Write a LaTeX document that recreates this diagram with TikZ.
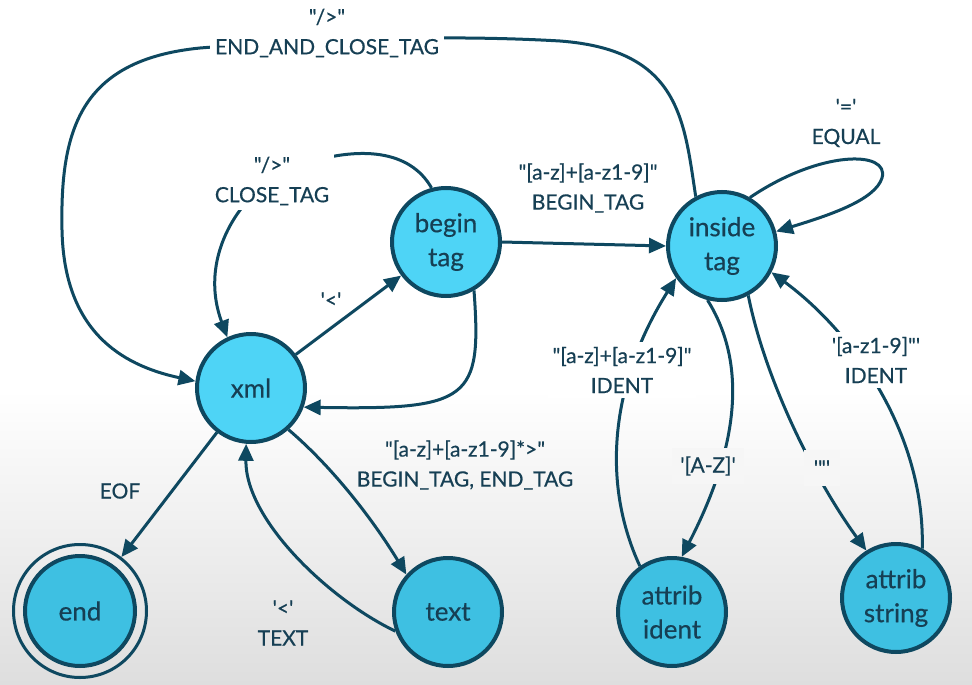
\documentclass[tikz,border=0pt]{standalone}
\usepackage{fontspec}
\newfontfamily\lato{Lato}[FakeBold=0.5]
\usetikzlibrary{arrows.meta}
\definecolor{ink}{RGB}{14,72,96}
\definecolor{txt}{RGB}{22,63,84}
\definecolor{cyhi}{RGB}{78,212,246}
\definecolor{cylo}{RGB}{62,192,226}
\definecolor{bga}{RGB}{246,246,246}
\definecolor{bgb}{RGB}{222,222,222}
\tikzset{
  state/.style={circle, draw=ink, line width=4pt, fill=cyhi, minimum size=108pt, inner sep=0pt, text=txt, align=center, font=\lato\fontsize{26}{34}\selectfont},
  statelo/.style={state, fill=cylo},
  edge/.style={draw=ink, line width=3pt, -{Triangle[length=17pt,width=15pt]}},
  lbl/.style={text=txt, align=center, font=\lato\fontsize{21}{30}\selectfont, inner sep=5pt},
}
\begin{document}
\begin{tikzpicture}[x=1pt,y=-1pt]
\useasboundingbox (0,0) rectangle (972,685);
\fill[white] (0,0) rectangle (972,391);
\begin{scope}[y=1pt]
\shade[top color=white,bottom color=bgb] (0,-685) rectangle (972,-390);
\end{scope}

% states
\node[state] (xml) at (251,388) {xml};
\node[state] (begin) at (446,242) {begin\\tag};
\node[state] (inside) at (722,246) {inside\\tag};
\node[circle, draw=ink, line width=3pt, minimum size=133pt, inner sep=0pt] (fin) at (80,611) {};
\node[statelo, minimum size=110pt] (fininner) at (fin.center) {end};
\node[statelo] (txtnode) at (448,612) {text};
\node[statelo] (aident) at (672,612) {attrib\\ident};
\node[statelo] (astring) at (896,598) {attrib\\string};

% edges
\draw[edge] (xml) -- (begin);
\draw[edge] (begin.east) -- (inside.west);
\draw[edge] (begin.-60) .. controls (482,400) and (470,410) .. (xml.-20);
\draw[edge] (begin.105) .. controls (410,150) and (360,145) .. (300,165) .. controls (250,180) and (195,250) .. (xml.115);
\draw[edge] (inside.118) .. controls (684,120) and (680,50) .. (560,41) .. controls (440,34) and (300,40) .. (200,48) .. controls (80,60) and (60,130) .. (62,230) .. controls (64,330) and (120,365) .. (xml.173);
\draw[edge] (inside.60) .. controls (820,150) and (890,150) .. (882,178) .. controls (875,200) and (830,215) .. (inside.15);
\draw[edge] (inside.-105) .. controls (745,360) and (742,440) .. (aident.80);
\draw[edge] (inside.-62) .. controls (765,380) and (815,480) .. (astring.122);
\draw[edge] (aident.125) .. controls (600,480) and (612,380) .. (inside.-145);
\draw[edge] (astring.62) .. controls (925,430) and (850,330) .. (inside.-28);
\draw[edge] (xml) -- (fin);
\draw[edge] (xml.-48) .. controls (330,465) and (370,515) .. (txtnode.138);
\draw[edge] (txtnode.200) .. controls (330,600) and (245,520) .. (xml.-95);

% labels
\node[lbl, fill=white] (l1) at (327,33) {"/>"\\END\_AND\_CLOSE\_TAG};
\node[lbl, fill=white] (l2) at (272,181) {"/>"\\CLOSE\_TAG};
\node[lbl] (l3) at (331,300) {'<'};
\node[lbl] (l4) at (588,188) {"[a-z]+[a-z1-9]"\\BEGIN\_TAG};
\node[lbl] (l5) at (846,123) {'='\\EQUAL};
\node[lbl, fill=white] (l6) at (622,370) {"[a-z]+[a-z1-9]"\\IDENT};
\node[lbl, fill=white] (l7) at (876,360) {'[a-z1-9]"'\\IDENT};
\node[lbl, fill=bga, inner sep=8pt] (l8) at (708,466) {'[A-Z]'};
\node[lbl, fill=bga, inner sep=10pt] (l9) at (822,468) {'"'};
\node[lbl] (l10) at (465,465) {"[a-z]+[a-z1-9]*>"\\BEGIN\_TAG, END\_TAG};
\node[lbl] (l11) at (120,491) {EOF};
\node[lbl] (l12) at (283,623) {'<'\\TEXT};
\end{tikzpicture}
\end{document}
